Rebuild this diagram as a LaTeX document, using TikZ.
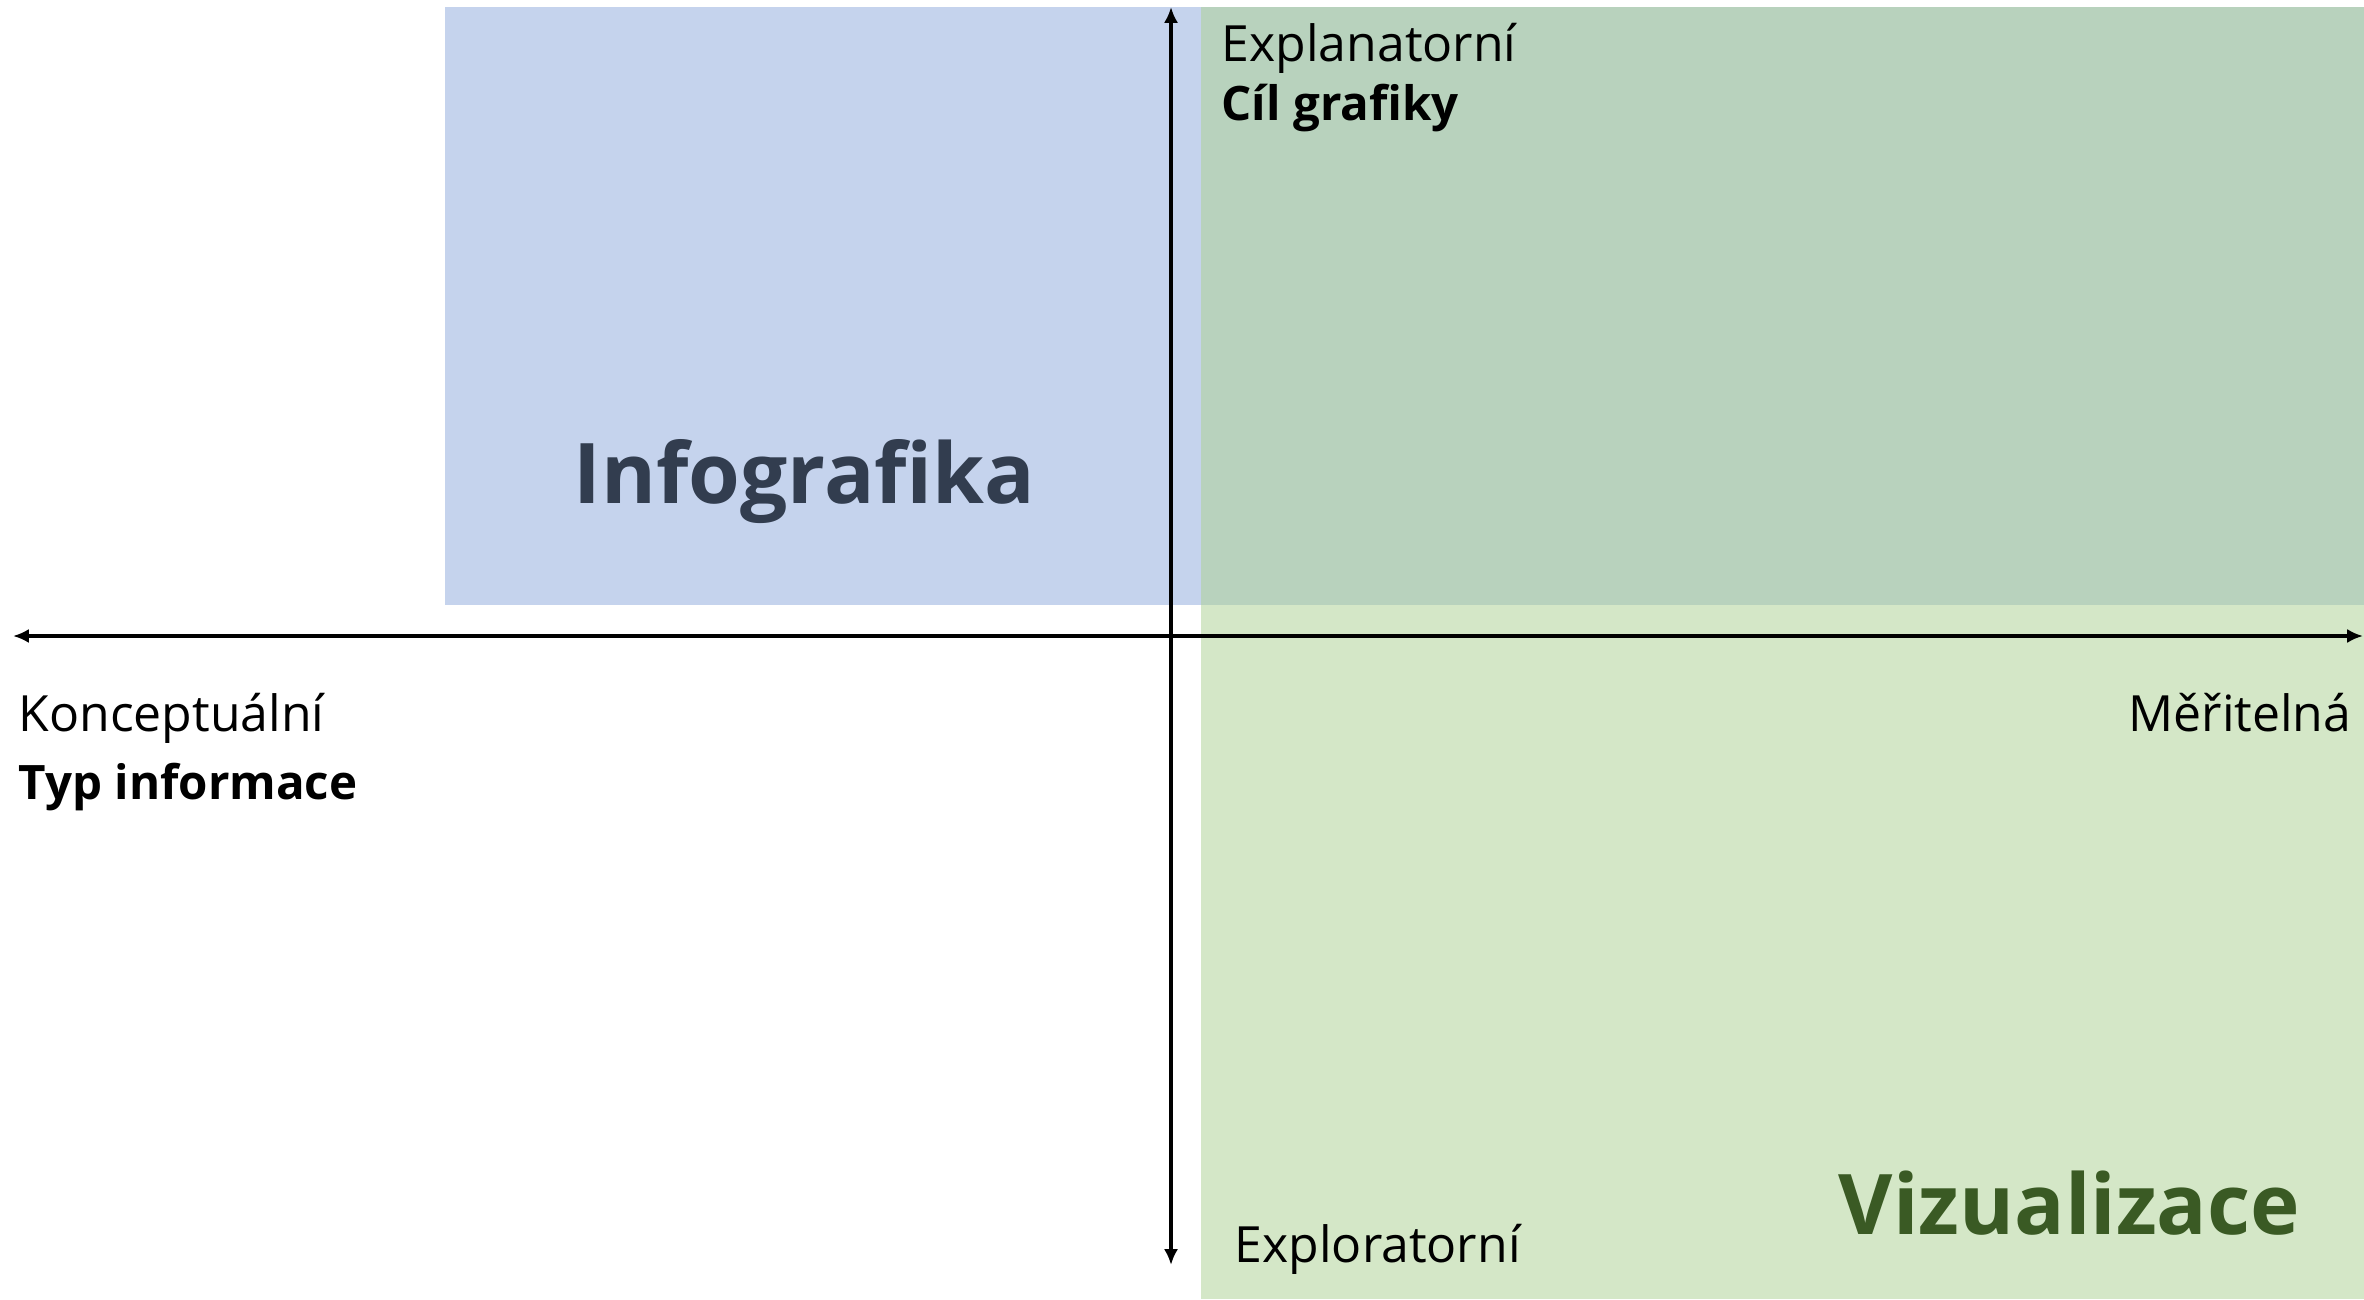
\documentclass[tikz,border=0pt]{standalone}
\usepackage{fontspec}
\setmainfont{Open Sans}
\usepackage{tikz}
\usetikzlibrary{arrows.meta,positioning}
\definecolor{infoblue}{HTML}{C5D3ED}
\definecolor{overlapgreen}{HTML}{B8D2BD}
\definecolor{vizgreen}{HTML}{D4E7C7}
\definecolor{infotext}{HTML}{323D4F}
\definecolor{viztext}{HTML}{3A5A24}
\tikzset{
  axislabel/.style={
    font=\fontsize{14.2}{16}\selectfont,
    inner sep=0pt, anchor=base west
  },
  axistitle/.style={
    axislabel, font=\fontsize{13.5}{16}\selectfont\bfseries
  },
  bigtitle/.style={
    font=\fontsize{23.8}{26}\selectfont\bfseries, text=#1,
    inner sep=0pt, anchor=base west
  },
  bigtitle/.default=infotext,
  axisline/.style={
    {Latex[length=4.5pt,width=4pt]}-{Latex[length=4.5pt,width=4pt]},
    line width=0.9pt
  },
}

\begin{document}
\begin{tikzpicture}[x=0.01cm, y=0.01cm]
    \useasboundingbox (0,0) rectangle (2364,1299);
    % quadrants
    \fill[infoblue] (445,694) rectangle (1201,1292);
    \fill[overlapgreen] (1201,694) rectangle (2364,1292);
    \fill[vizgreen] (1201,0) rectangle (2364,694);
    % axes
    \coordinate (left) at (13,663);
    \coordinate (right) at (2363,663);
    \coordinate (top) at (1171,1292);
    \coordinate (bottom) at (1171,34);
    \draw[axisline] (left) -- (right);
    \draw[axisline] (bottom) -- (top);
    % labels
    \node[axislabel] (explan) at (1221,1237) {Explanatorní};
    \node[axistitle] (goal) at (1221,1178) {Cíl grafiky};
    \node[axislabel] (concept) at (18,568) {Konceptuální};
    \node[axistitle] (infotype) at (18,500) {Typ informace};
    \node[axislabel, anchor=base east] (measure) at (2352,568) {Měřitelná};
    \node[axislabel] (explor) at (1234,37) {Exploratorní};
    \node[bigtitle] (infografika) at (573,796) {Infografika};
    \node[bigtitle=viztext] (vizualizace) at (1838,65) {Vizualizace};
\end{tikzpicture}
\end{document}
